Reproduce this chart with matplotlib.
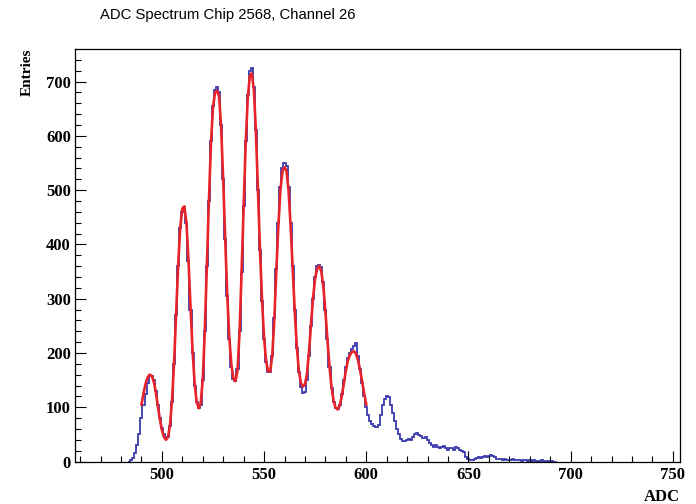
import numpy as np
import matplotlib
matplotlib.use("Agg")
import matplotlib.pyplot as plt
from matplotlib.ticker import MultipleLocator

# histogram contents, one entry per ADC bin starting at adc_start
adc_start = 484
counts = [
    0, 2, 6, 15, 30, 50, 80, 105, 125, 145,
    158, 157, 150, 130, 105, 80, 62, 50, 43, 45,
    65, 110, 180, 270, 360, 430, 460, 468, 440, 370,
    280, 200, 140, 110, 98, 105, 150, 240, 360, 480,
    590, 655, 685, 690, 680, 620, 520, 410, 305, 225,
    175, 152, 148, 170, 240, 350, 470, 590, 675, 720,
    725, 690, 610, 500, 390, 295, 225, 183, 165, 165,
    195, 265, 355, 440, 505, 540, 550, 545, 505, 440,
    360, 280, 210, 165, 138, 127, 128, 150, 195, 250,
    300, 340, 360, 362, 358, 330, 280, 225, 175, 135,
    110, 98, 96, 105, 125, 150, 175, 190, 200, 207,
    212, 218, 195, 170, 145, 120, 100, 85, 75, 70,
    65, 63, 68, 85, 105, 115, 120, 118, 105, 90,
    75, 60, 50, 42, 38, 37, 40, 42, 40, 45,
    50, 52, 48, 47, 44, 45, 40, 35, 30, 27,
    30, 26, 24, 27, 28, 24, 22, 25, 24, 22,
    26, 24, 22, 20, 18, 8, 4, 2, 3, 5,
    6, 8, 7, 9, 10, 9, 11, 12, 10, 8,
    5, 4, 5, 3, 4, 3, 2, 3, 4, 2,
    3, 2, 1, 3, 2, 1, 2, 1, 2, 1,
    0, 1, 2, 1, 0, 1, 0, 1, 0, 0,
]

# multi-peak fit, sampled at each ADC value from fit_start
fit_start = 490
fit = [
    105, 125, 143, 155, 160, 158, 148, 128, 103, 78,
    58, 45, 40, 45, 68, 115, 185, 275, 365, 432,
    466, 470, 440, 372, 285, 205, 145, 110, 98, 108,
    152, 240, 360, 480, 585, 652, 680, 683, 672, 615,
    518, 408, 305, 228, 178, 153, 148, 168, 238, 350,
    470, 585, 668, 710, 715, 685, 608, 500, 390, 297,
    228, 185, 166, 166, 195, 262, 352, 435, 500, 535,
    542, 535, 498, 433, 355, 278, 212, 168, 145, 138,
    142, 162, 203, 255, 303, 338, 356, 360, 350, 322,
    277, 224, 175, 137, 112, 99, 96, 103, 120, 143,
    167, 186, 196, 202, 203, 198, 186, 168, 147, 125, 105,
]

title = "ADC Spectrum Chip 2568, Channel 26"

fig = plt.figure(figsize=(6.96, 5.04), dpi=100)
ax = fig.add_axes([0.1078, 0.0843, 0.8692, 0.8185])

edges = np.arange(len(counts) + 1) + adc_start - 0.5
ax.stairs(counts, edges, color="#3a3aad", lw=1.3)
fit_x = np.arange(len(fit)) + fit_start
ax.plot(fit_x, fit, color="#e8232a", lw=1.9)

ax.set_xlim(457.5, 753.5)
ax.set_ylim(0, 760)
ax.xaxis.set_major_locator(MultipleLocator(50))
ax.xaxis.set_minor_locator(MultipleLocator(10))
ax.yaxis.set_major_locator(MultipleLocator(100))
ax.yaxis.set_minor_locator(MultipleLocator(20))
ax.tick_params(which="both", direction="in", top=False, right=False, width=0.8)
ax.tick_params(which="major", length=8)
ax.tick_params(which="minor", length=4)
ax.tick_params(axis="x", pad=4)
ax.tick_params(axis="y", pad=3)
for lab in ax.get_xticklabels() + ax.get_yticklabels():
    lab.set_family("Liberation Serif")
    lab.set_weight("bold")
    lab.set_fontsize(12)
for sp in ax.spines.values():
    sp.set_linewidth(0.9)

fig.text(100 / 696, 1 - 15 / 504, title, ha="left", va="center",
         family="Liberation Sans", fontsize=10.7)
fig.text(680 / 696, 1 - 497 / 504, "ADC", ha="right", va="center",
         family="Liberation Serif", weight="bold", fontsize=12)
fig.text(27 / 696, 1 - 49 / 504, "Entries", ha="center", va="top", rotation=90,
         family="Liberation Serif", weight="bold", fontsize=11)

fig.savefig("out.png", dpi=100)
